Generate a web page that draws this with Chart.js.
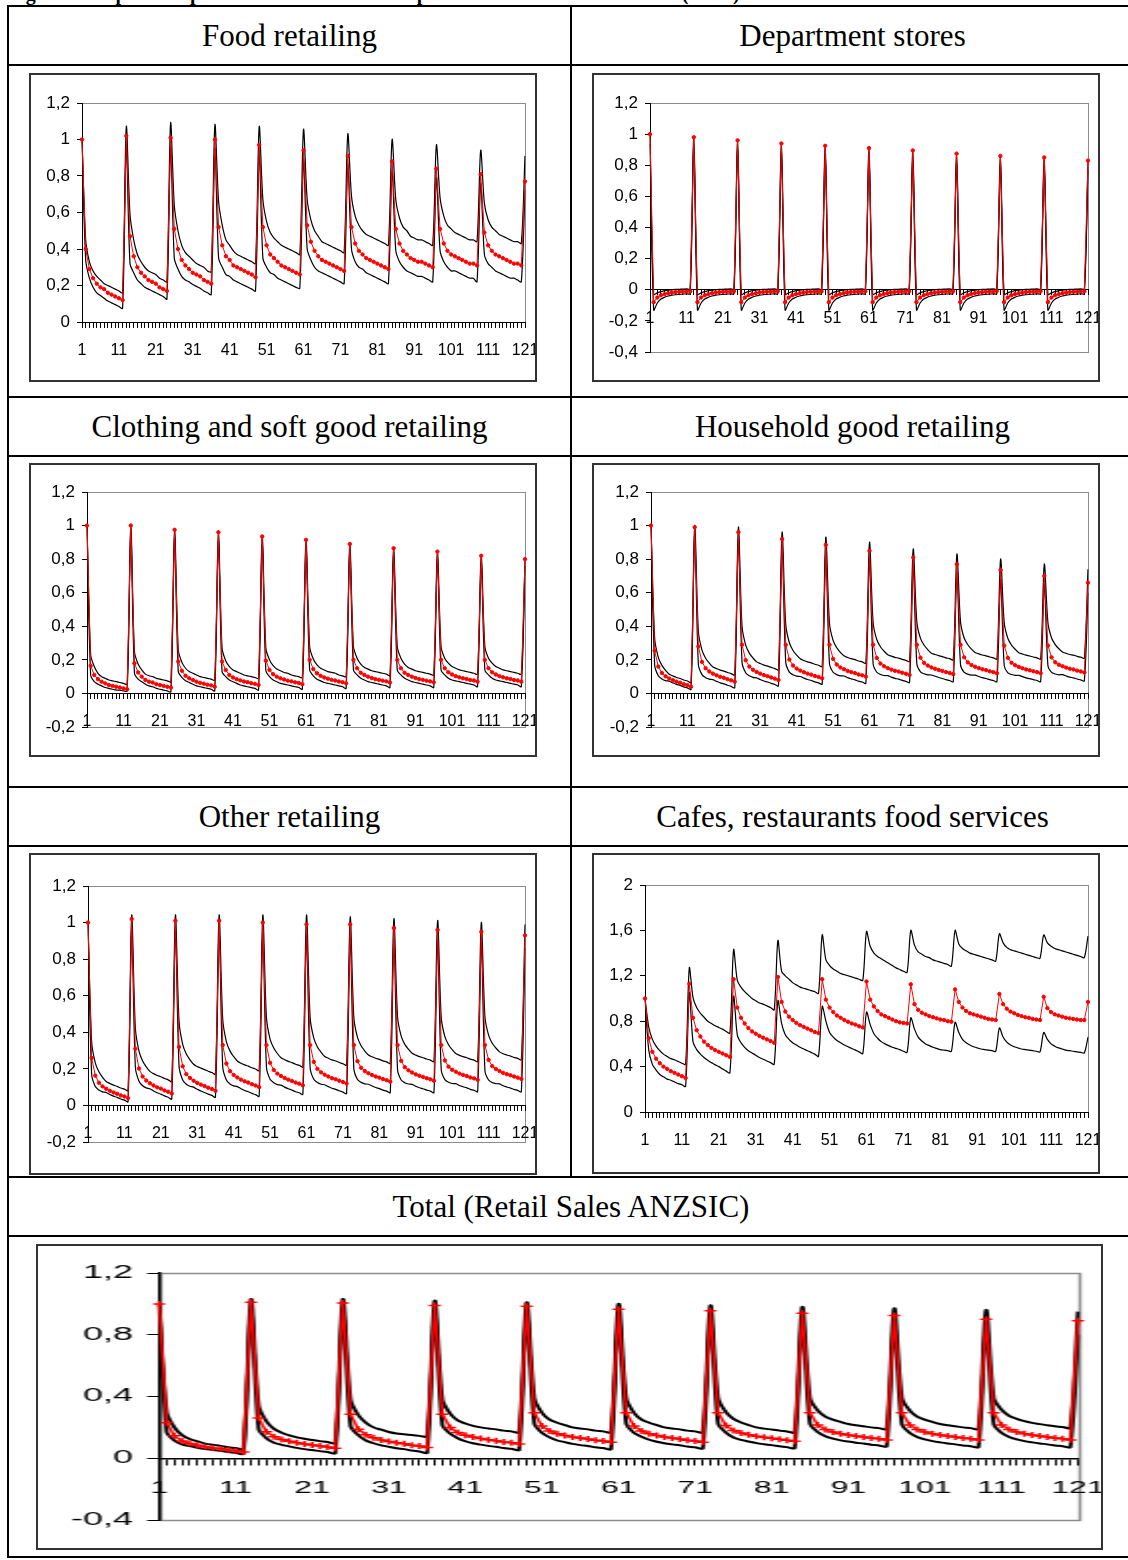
<!DOCTYPE html>
<html><head><meta charset="utf-8">
<script src="https://cdn.jsdelivr.net/npm/chart.js@4.4.1/dist/chart.umd.min.js"></script>
<style>
html,body{margin:0;padding:0;background:#fff;}
body{width:1128px;height:1560px;position:relative;overflow:hidden;}
.hl{position:absolute;height:2px;background:#000;}
.vl{position:absolute;width:2px;background:#000;}
.title{position:absolute;font-family:'Liberation Serif','Times New Roman',serif;font-size:31px;color:#000;text-align:center;white-space:nowrap;line-height:40px;height:40px;}
.cap{position:absolute;left:8px;top:-17px;font-family:'Liberation Serif','Times New Roman',serif;font-weight:bold;font-size:20px;line-height:20px;white-space:nowrap;}
.box{position:absolute;border:2px solid #333;box-sizing:border-box;background:#fff;overflow:hidden;}
.box canvas{position:absolute;left:0;top:0;}
</style></head>
<body>
<div class="cap">Figure 5: Impulse responses of the seasonal component in the retail sales series (SDM)</div>

<div class="hl" style="left:7px;top:5px;width:1130px"></div>
<div class="hl" style="left:7px;top:64px;width:1130px"></div>
<div class="hl" style="left:7px;top:396px;width:1130px"></div>
<div class="hl" style="left:7px;top:455px;width:1130px"></div>
<div class="hl" style="left:7px;top:786px;width:1130px"></div>
<div class="hl" style="left:7px;top:845px;width:1130px"></div>
<div class="hl" style="left:7px;top:1176px;width:1130px"></div>
<div class="hl" style="left:7px;top:1235px;width:1130px"></div>
<div class="hl" style="left:7px;top:1556px;width:1130px"></div>
<div class="vl" style="left:7px;top:5px;height:1553px"></div>
<div class="vl" style="left:570px;top:5px;height:1173px"></div>
<div class="vl" style="left:1133px;top:5px;height:1553px"></div>

<div class="title" style="left:8px;width:563px;top:16px">Food retailing</div>
<div class="title" style="left:571px;width:563px;top:16px">Department stores</div>
<div class="title" style="left:8px;width:563px;top:407px">Clothing and soft good retailing</div>
<div class="title" style="left:571px;width:563px;top:407px">Household good retailing</div>
<div class="title" style="left:8px;width:563px;top:797px">Other retailing</div>
<div class="title" style="left:571px;width:563px;top:797px">Cafes, restaurants food services</div>
<div class="title" style="left:8px;width:1126px;top:1187px">Total (Retail Sales ANZSIC)</div>

<div class="box" style="left:29px;top:73px;width:508px;height:309px"><canvas id="cFood"></canvas></div>
<div class="box" style="left:592px;top:73px;width:508px;height:309px"><canvas id="cDept"></canvas></div>
<div class="box" style="left:29px;top:463px;width:508px;height:294px"><canvas id="cCloth"></canvas></div>
<div class="box" style="left:592px;top:463px;width:508px;height:294px"><canvas id="cHouse"></canvas></div>
<div class="box" style="left:29px;top:853px;width:508px;height:322px"><canvas id="cOther"></canvas></div>
<div class="box" style="left:592px;top:853px;width:508px;height:321px"><canvas id="cCafe"></canvas></div>
<div class="box" style="left:36px;top:1244px;width:1067px;height:306px"><canvas id="cTotal" style="transform-origin:0 0;transform:scaleX(1.998)"></canvas></div>

<script>
// ---------- categories & tick labels ----------
const periods = [1,2,3,4,5,6,7,8,9,10,11,12,13,14,15,16,17,18,19,20,21,22,23,24,25,26,27,28,29,30,
31,32,33,34,35,36,37,38,39,40,41,42,43,44,45,46,47,48,49,50,51,52,53,54,55,56,57,58,59,60,
61,62,63,64,65,66,67,68,69,70,71,72,73,74,75,76,77,78,79,80,81,82,83,84,85,86,87,88,89,90,
91,92,93,94,95,96,97,98,99,100,101,102,103,104,105,106,107,108,109,110,111,112,113,114,115,116,117,118,119,120,121];
const xTickLabels = ['1','11','21','31','41','51','61','71','81','91','101','111','121'];
const yTicksA = [0, 0.2, 0.4, 0.6, 0.8, 1, 1.2];
const yTicksB = [-0.4, -0.2, 0, 0.2, 0.4, 0.6, 0.8, 1, 1.2];
const yTicksC = [-0.2, 0, 0.2, 0.4, 0.6, 0.8, 1, 1.2];
const yTicksCafe = [0, 0.4, 0.8, 1.2, 1.6, 2];
const yTicksTotal = [-0.4, 0, 0.4, 0.8, 1.2];

// ---------- Food retailing ----------
const foodMid = [
1.00,0.40,0.29,0.24,0.21,0.19,0.18,0.16,0.15,0.14,0.13,0.12,
1.02,0.47,0.36,0.30,0.27,0.25,0.23,0.22,0.21,0.19,0.18,0.17,
1.01,0.51,0.40,0.34,0.31,0.29,0.27,0.26,0.25,0.23,0.22,0.21,
1.00,0.52,0.42,0.36,0.34,0.31,0.30,0.29,0.28,0.27,0.26,0.245,
0.97,0.52,0.42,0.37,0.35,0.33,0.31,0.30,0.29,0.28,0.27,0.26,
0.94,0.53,0.44,0.39,0.36,0.34,0.33,0.32,0.31,0.30,0.29,0.28,
0.91,0.52,0.43,0.39,0.37,0.35,0.34,0.33,0.32,0.31,0.30,0.29,
0.88,0.51,0.43,0.39,0.37,0.35,0.34,0.33,0.33,0.32,0.31,0.30,
0.84,0.51,0.43,0.39,0.37,0.36,0.35,0.34,0.33,0.32,0.32,0.31,
0.81,0.49,0.42,0.39,0.37,0.36,0.35,0.34,0.33,0.32,0.32,0.31,
0.77];
const foodUp = [
1.00,0.45,0.33,0.28,0.25,0.23,0.21,0.20,0.19,0.18,0.17,0.16,
1.07,0.59,0.45,0.37,0.33,0.30,0.28,0.27,0.26,0.24,0.23,0.22,
1.09,0.64,0.50,0.42,0.38,0.36,0.34,0.32,0.31,0.30,0.28,0.275,
1.08,0.66,0.53,0.45,0.42,0.39,0.37,0.36,0.35,0.34,0.33,0.32,
1.07,0.67,0.55,0.49,0.46,0.44,0.42,0.41,0.40,0.39,0.38,0.37,
1.055,0.67,0.56,0.50,0.47,0.44,0.43,0.42,0.41,0.40,0.39,0.38,
1.03,0.69,0.58,0.53,0.50,0.48,0.47,0.46,0.45,0.44,0.43,0.42,
1.00,0.67,0.57,0.52,0.50,0.47,0.46,0.45,0.45,0.44,0.43,0.42,
0.97,0.68,0.58,0.53,0.51,0.49,0.48,0.47,0.46,0.45,0.45,0.44,
0.94,0.65,0.56,0.52,0.50,0.48,0.47,0.46,0.45,0.44,0.44,0.43,
0.91];
const foodLo = [
1.00,0.34,0.24,0.19,0.16,0.145,0.13,0.115,0.105,0.095,0.085,0.075,
0.97,0.32,0.27,0.23,0.21,0.19,0.18,0.17,0.16,0.15,0.14,0.125,
0.96,0.35,0.29,0.25,0.23,0.22,0.205,0.195,0.185,0.17,0.16,0.15,
0.95,0.35,0.30,0.26,0.25,0.23,0.22,0.21,0.20,0.19,0.18,0.17,
0.92,0.35,0.30,0.27,0.26,0.24,0.23,0.22,0.21,0.20,0.19,0.185,
0.89,0.40,0.34,0.30,0.28,0.27,0.26,0.25,0.24,0.23,0.22,0.21,
0.86,0.40,0.33,0.30,0.29,0.27,0.26,0.25,0.24,0.23,0.22,0.21,
0.83,0.39,0.33,0.30,0.28,0.27,0.26,0.25,0.25,0.24,0.23,0.22,
0.79,0.39,0.33,0.30,0.28,0.28,0.27,0.26,0.25,0.24,0.24,0.22,
0.76,0.37,0.32,0.30,0.28,0.27,0.26,0.25,0.24,0.24,0.23,0.22,
0.72];

// ---------- Department stores ----------
const deptMid = [
1.00,-0.08,-0.05,-0.035,-0.028,-0.022,-0.018,-0.015,-0.013,-0.012,-0.011,-0.01,
0.98,-0.08,-0.05,-0.035,-0.028,-0.022,-0.018,-0.015,-0.013,-0.012,-0.011,-0.01,
0.96,-0.08,-0.05,-0.035,-0.028,-0.022,-0.018,-0.015,-0.013,-0.012,-0.011,-0.01,
0.94,-0.08,-0.05,-0.035,-0.028,-0.022,-0.018,-0.015,-0.013,-0.012,-0.011,-0.01,
0.925,-0.08,-0.05,-0.035,-0.028,-0.022,-0.018,-0.015,-0.013,-0.012,-0.011,-0.01,
0.91,-0.08,-0.05,-0.035,-0.028,-0.022,-0.018,-0.015,-0.013,-0.012,-0.011,-0.01,
0.895,-0.08,-0.05,-0.035,-0.028,-0.022,-0.018,-0.015,-0.013,-0.012,-0.011,-0.01,
0.875,-0.08,-0.05,-0.035,-0.028,-0.022,-0.018,-0.015,-0.013,-0.012,-0.011,-0.01,
0.86,-0.08,-0.05,-0.035,-0.028,-0.022,-0.018,-0.015,-0.013,-0.012,-0.011,-0.01,
0.85,-0.08,-0.05,-0.035,-0.028,-0.022,-0.018,-0.015,-0.013,-0.012,-0.011,-0.01,
0.83];
const deptUp = [
0.99,-0.03,-0.02,-0.012,-0.006,-0.002,0,0.002,0.003,0.004,0.005,0.005,
0.97,-0.03,-0.02,-0.012,-0.006,-0.002,0,0.002,0.003,0.004,0.005,0.005,
0.95,-0.03,-0.02,-0.012,-0.006,-0.002,0,0.002,0.003,0.004,0.005,0.005,
0.93,-0.03,-0.02,-0.012,-0.006,-0.002,0,0.002,0.003,0.004,0.005,0.005,
0.915,-0.03,-0.02,-0.012,-0.006,-0.002,0,0.002,0.003,0.004,0.005,0.005,
0.90,-0.03,-0.02,-0.012,-0.006,-0.002,0,0.002,0.003,0.004,0.005,0.005,
0.885,-0.03,-0.02,-0.012,-0.006,-0.002,0,0.002,0.003,0.004,0.005,0.005,
0.865,-0.03,-0.02,-0.012,-0.006,-0.002,0,0.002,0.003,0.004,0.005,0.005,
0.85,-0.03,-0.02,-0.012,-0.006,-0.002,0,0.002,0.003,0.004,0.005,0.005,
0.84,-0.03,-0.02,-0.012,-0.006,-0.002,0,0.002,0.003,0.004,0.005,0.005,
0.82];
const deptLo = [
0.94,-0.13,-0.085,-0.06,-0.048,-0.04,-0.035,-0.032,-0.03,-0.028,-0.026,-0.025,
0.92,-0.13,-0.085,-0.06,-0.048,-0.04,-0.035,-0.032,-0.03,-0.028,-0.026,-0.025,
0.90,-0.13,-0.085,-0.06,-0.048,-0.04,-0.035,-0.032,-0.03,-0.028,-0.026,-0.025,
0.88,-0.13,-0.085,-0.06,-0.048,-0.04,-0.035,-0.032,-0.03,-0.028,-0.026,-0.025,
0.865,-0.13,-0.085,-0.06,-0.048,-0.04,-0.035,-0.032,-0.03,-0.028,-0.026,-0.025,
0.85,-0.13,-0.085,-0.06,-0.048,-0.04,-0.035,-0.032,-0.03,-0.028,-0.026,-0.025,
0.835,-0.13,-0.085,-0.06,-0.048,-0.04,-0.035,-0.032,-0.03,-0.028,-0.026,-0.025,
0.815,-0.13,-0.085,-0.06,-0.048,-0.04,-0.035,-0.032,-0.03,-0.028,-0.026,-0.025,
0.80,-0.13,-0.085,-0.06,-0.048,-0.04,-0.035,-0.032,-0.03,-0.028,-0.026,-0.025,
0.79,-0.13,-0.085,-0.06,-0.048,-0.04,-0.035,-0.032,-0.03,-0.028,-0.026,-0.025,
0.77];

// ---------- Clothing and soft good retailing ----------
const clothMid = [
1.00,0.165,0.11,0.085,0.07,0.06,0.05,0.045,0.04,0.035,0.03,0.025,
1.00,0.18,0.125,0.10,0.08,0.07,0.065,0.055,0.05,0.045,0.04,0.035,
0.975,0.19,0.135,0.105,0.09,0.08,0.07,0.063,0.058,0.052,0.048,0.04,
0.96,0.19,0.14,0.11,0.095,0.085,0.078,0.071,0.067,0.061,0.057,0.05,
0.935,0.195,0.14,0.115,0.10,0.09,0.083,0.076,0.072,0.066,0.062,0.055,
0.915,0.20,0.145,0.12,0.105,0.095,0.088,0.081,0.077,0.071,0.067,0.06,
0.89,0.20,0.15,0.123,0.11,0.10,0.092,0.085,0.081,0.076,0.072,0.065,
0.865,0.20,0.15,0.123,0.11,0.10,0.092,0.085,0.081,0.076,0.072,0.066,
0.845,0.20,0.15,0.126,0.113,0.103,0.096,0.09,0.086,0.08,0.077,0.07,
0.82,0.20,0.15,0.126,0.113,0.103,0.096,0.09,0.086,0.08,0.077,0.07,
0.80];
const clothUp = [
1.00,0.23,0.16,0.12,0.10,0.09,0.08,0.075,0.07,0.065,0.06,0.055,
0.99,0.25,0.175,0.14,0.115,0.105,0.10,0.09,0.085,0.08,0.075,0.07,
0.97,0.26,0.185,0.15,0.13,0.12,0.11,0.10,0.095,0.09,0.085,0.08,
0.95,0.27,0.195,0.16,0.14,0.13,0.12,0.11,0.105,0.10,0.095,0.09,
0.93,0.27,0.20,0.165,0.145,0.135,0.125,0.12,0.11,0.105,0.10,0.095,
0.91,0.28,0.205,0.17,0.15,0.14,0.13,0.125,0.12,0.11,0.105,0.10,
0.885,0.28,0.21,0.175,0.155,0.145,0.135,0.13,0.125,0.12,0.115,0.105,
0.86,0.28,0.21,0.175,0.155,0.145,0.135,0.13,0.125,0.12,0.115,0.11,
0.84,0.28,0.21,0.18,0.16,0.15,0.14,0.135,0.13,0.125,0.12,0.115,
0.815,0.28,0.21,0.18,0.16,0.15,0.14,0.135,0.13,0.125,0.12,0.115,
0.79];
const clothLo = [
1.00,0.11,0.07,0.055,0.045,0.035,0.03,0.025,0.02,0.02,0.015,0.015,
0.96,0.12,0.085,0.07,0.055,0.045,0.04,0.03,0.025,0.02,0.015,0.01,
0.93,0.13,0.095,0.075,0.065,0.055,0.045,0.04,0.035,0.03,0.025,0.015,
0.91,0.13,0.10,0.08,0.07,0.06,0.05,0.045,0.04,0.035,0.03,0.02,
0.89,0.135,0.10,0.08,0.07,0.06,0.055,0.05,0.045,0.04,0.035,0.025,
0.87,0.14,0.105,0.085,0.075,0.065,0.06,0.055,0.05,0.045,0.04,0.03,
0.85,0.14,0.11,0.09,0.08,0.07,0.065,0.06,0.055,0.05,0.045,0.035,
0.82,0.14,0.11,0.09,0.08,0.07,0.065,0.06,0.055,0.05,0.045,0.035,
0.80,0.14,0.11,0.09,0.08,0.075,0.07,0.065,0.06,0.055,0.05,0.04,
0.78,0.14,0.11,0.09,0.08,0.075,0.07,0.065,0.06,0.055,0.05,0.04,
0.76];

// ---------- Household good retailing ----------
const houseMid = [
1.00,0.255,0.16,0.122,0.102,0.089,0.079,0.07,0.064,0.055,0.049,0.04,
0.99,0.28,0.188,0.15,0.131,0.118,0.108,0.099,0.093,0.085,0.078,0.07,
0.96,0.29,0.198,0.16,0.141,0.128,0.118,0.109,0.103,0.095,0.088,0.08,
0.92,0.29,0.202,0.166,0.148,0.136,0.126,0.118,0.112,0.104,0.098,0.09,
0.885,0.29,0.206,0.172,0.155,0.144,0.134,0.127,0.121,0.113,0.108,0.10,
0.85,0.29,0.211,0.178,0.162,0.151,0.142,0.135,0.13,0.123,0.117,0.11,
0.81,0.29,0.213,0.182,0.166,0.155,0.147,0.14,0.134,0.127,0.122,0.115,
0.77,0.29,0.215,0.185,0.169,0.159,0.151,0.144,0.139,0.132,0.127,0.12,
0.735,0.285,0.212,0.183,0.168,0.158,0.15,0.143,0.138,0.132,0.127,0.12,
0.70,0.285,0.215,0.186,0.171,0.162,0.154,0.147,0.143,0.136,0.131,0.125,
0.66];
const houseUp = [
1.00,0.33,0.215,0.167,0.137,0.114,0.104,0.095,0.089,0.08,0.074,0.065,
1.00,0.37,0.258,0.21,0.181,0.158,0.148,0.139,0.133,0.125,0.118,0.11,
0.99,0.40,0.288,0.24,0.211,0.188,0.178,0.169,0.163,0.155,0.148,0.14,
0.96,0.41,0.302,0.256,0.228,0.206,0.196,0.188,0.182,0.174,0.168,0.16,
0.93,0.42,0.316,0.272,0.245,0.224,0.214,0.207,0.201,0.193,0.188,0.18,
0.90,0.42,0.321,0.278,0.252,0.231,0.222,0.215,0.21,0.203,0.197,0.19,
0.86,0.425,0.328,0.287,0.261,0.24,0.232,0.225,0.219,0.212,0.207,0.20,
0.83,0.425,0.33,0.29,0.264,0.244,0.236,0.229,0.224,0.217,0.212,0.205,
0.80,0.42,0.327,0.288,0.263,0.243,0.235,0.228,0.223,0.217,0.212,0.205,
0.77,0.42,0.33,0.291,0.266,0.247,0.239,0.232,0.228,0.221,0.216,0.21,
0.74];
const houseLo = [
1.00,0.17,0.105,0.086,0.076,0.073,0.063,0.054,0.048,0.039,0.033,0.024,
0.95,0.174,0.112,0.094,0.085,0.082,0.072,0.063,0.057,0.049,0.042,0.034,
0.92,0.185,0.123,0.105,0.096,0.093,0.083,0.074,0.068,0.06,0.053,0.045,
0.88,0.185,0.127,0.111,0.103,0.101,0.091,0.083,0.077,0.069,0.063,0.055,
0.84,0.18,0.126,0.112,0.105,0.104,0.094,0.087,0.081,0.073,0.068,0.06,
0.80,0.175,0.126,0.113,0.107,0.106,0.097,0.09,0.085,0.078,0.072,0.065,
0.76,0.175,0.128,0.117,0.111,0.11,0.102,0.095,0.089,0.082,0.077,0.07,
0.72,0.17,0.125,0.115,0.109,0.109,0.101,0.094,0.089,0.082,0.077,0.07,
0.68,0.165,0.122,0.113,0.108,0.108,0.10,0.093,0.088,0.082,0.077,0.07,
0.65,0.165,0.125,0.116,0.111,0.112,0.104,0.097,0.093,0.086,0.081,0.075,
0.60];

// ---------- Other retailing ----------
const otherMid = [
1.00,0.26,0.163,0.124,0.104,0.091,0.08,0.071,0.064,0.055,0.049,0.04,
1.02,0.31,0.202,0.158,0.136,0.121,0.109,0.099,0.092,0.082,0.075,0.065,
1.01,0.32,0.214,0.171,0.15,0.135,0.123,0.114,0.106,0.097,0.09,0.08,
1.01,0.33,0.229,0.187,0.167,0.153,0.141,0.132,0.125,0.116,0.109,0.10,
1.00,0.33,0.233,0.194,0.174,0.161,0.15,0.141,0.134,0.125,0.119,0.11,
0.99,0.33,0.238,0.20,0.181,0.168,0.158,0.149,0.143,0.135,0.128,0.12,
0.99,0.33,0.242,0.206,0.188,0.176,0.166,0.158,0.152,0.144,0.138,0.13,
0.97,0.33,0.244,0.209,0.192,0.18,0.17,0.162,0.156,0.149,0.143,0.135,
0.96,0.33,0.246,0.212,0.195,0.184,0.174,0.167,0.161,0.153,0.148,0.14,
0.95,0.33,0.249,0.215,0.199,0.188,0.178,0.171,0.165,0.158,0.152,0.145,
0.93];
const otherUp = [
1.00,0.35,0.233,0.184,0.154,0.131,0.12,0.111,0.104,0.095,0.089,0.08,
1.04,0.425,0.297,0.243,0.211,0.186,0.174,0.164,0.157,0.147,0.14,0.13,
1.04,0.46,0.334,0.281,0.25,0.225,0.213,0.204,0.196,0.187,0.18,0.17,
1.04,0.47,0.349,0.297,0.267,0.243,0.231,0.222,0.215,0.206,0.199,0.19,
1.04,0.48,0.363,0.314,0.284,0.261,0.25,0.241,0.234,0.225,0.219,0.21,
1.04,0.48,0.368,0.32,0.291,0.268,0.258,0.249,0.243,0.235,0.228,0.22,
1.03,0.48,0.372,0.326,0.298,0.276,0.266,0.258,0.252,0.244,0.238,0.23,
1.02,0.485,0.379,0.334,0.307,0.285,0.275,0.267,0.261,0.254,0.248,0.24,
1.01,0.48,0.376,0.332,0.305,0.284,0.274,0.267,0.261,0.253,0.248,0.24,
1.00,0.485,0.384,0.34,0.314,0.293,0.283,0.276,0.27,0.263,0.257,0.25,
0.99];
const otherLo = [
1.00,0.17,0.103,0.084,0.074,0.071,0.06,0.051,0.044,0.035,0.029,0.02,
0.97,0.21,0.132,0.108,0.096,0.091,0.079,0.069,0.062,0.052,0.045,0.035,
0.96,0.215,0.139,0.116,0.105,0.10,0.088,0.079,0.071,0.062,0.055,0.045,
0.95,0.21,0.139,0.117,0.107,0.103,0.091,0.082,0.075,0.066,0.059,0.05,
0.94,0.21,0.143,0.124,0.114,0.111,0.10,0.091,0.084,0.075,0.069,0.06,
0.93,0.205,0.143,0.125,0.116,0.113,0.103,0.094,0.088,0.08,0.073,0.065,
0.92,0.20,0.142,0.126,0.118,0.116,0.106,0.098,0.092,0.084,0.078,0.07,
0.91,0.195,0.139,0.124,0.117,0.115,0.105,0.097,0.091,0.084,0.078,0.07,
0.90,0.195,0.141,0.127,0.12,0.119,0.109,0.102,0.096,0.088,0.083,0.075,
0.89,0.19,0.139,0.125,0.119,0.118,0.108,0.101,0.095,0.088,0.082,0.075,
0.86];

// ---------- Cafes, restaurants food services ----------
const cafeMid = [
1.00,0.65,0.53,0.47,0.43,0.40,0.38,0.36,0.345,0.33,0.315,0.30,
1.13,0.83,0.72,0.665,0.62,0.59,0.565,0.545,0.53,0.515,0.50,0.485,
1.17,0.92,0.83,0.78,0.74,0.71,0.69,0.67,0.655,0.64,0.625,0.61,
1.19,0.97,0.885,0.84,0.81,0.785,0.765,0.75,0.735,0.72,0.705,0.695,
1.17,0.99,0.92,0.88,0.85,0.83,0.81,0.795,0.78,0.77,0.755,0.745,
1.15,0.99,0.93,0.89,0.86,0.845,0.83,0.815,0.80,0.79,0.785,0.78,
1.125,0.95,0.90,0.875,0.86,0.845,0.835,0.825,0.815,0.81,0.80,0.795,
1.08,0.97,0.92,0.89,0.87,0.86,0.85,0.84,0.83,0.82,0.815,0.81,
1.04,0.95,0.91,0.885,0.87,0.855,0.845,0.835,0.83,0.82,0.815,0.81,
1.015,0.915,0.88,0.86,0.85,0.84,0.83,0.825,0.82,0.815,0.81,0.81,
0.97];
const cafeUp = [
1.00,0.75,0.64,0.58,0.54,0.51,0.49,0.47,0.46,0.445,0.43,0.42,
1.27,1.01,0.92,0.87,0.835,0.80,0.78,0.76,0.745,0.73,0.71,0.695,
1.43,1.16,1.10,1.06,1.03,1.00,0.98,0.96,0.95,0.935,0.92,0.90,
1.51,1.24,1.20,1.17,1.14,1.12,1.10,1.09,1.08,1.07,1.06,1.045,
1.56,1.34,1.29,1.26,1.24,1.22,1.21,1.20,1.19,1.18,1.17,1.16,
1.59,1.46,1.40,1.37,1.35,1.33,1.31,1.29,1.27,1.255,1.24,1.23,
1.60,1.47,1.41,1.39,1.37,1.36,1.34,1.33,1.32,1.31,1.30,1.285,
1.60,1.48,1.44,1.42,1.40,1.39,1.38,1.37,1.36,1.35,1.34,1.33,
1.57,1.49,1.45,1.43,1.42,1.41,1.40,1.39,1.38,1.37,1.36,1.355,
1.56,1.49,1.46,1.44,1.43,1.42,1.41,1.40,1.39,1.38,1.37,1.36,
1.55];
const cafeLo = [
1.00,0.55,0.42,0.37,0.33,0.31,0.29,0.28,0.265,0.25,0.24,0.225,
1.05,0.62,0.55,0.51,0.48,0.455,0.435,0.415,0.40,0.38,0.36,0.345,
1.02,0.68,0.61,0.57,0.54,0.52,0.50,0.48,0.465,0.45,0.435,0.42,
0.98,0.78,0.68,0.64,0.61,0.59,0.57,0.555,0.54,0.525,0.51,0.49,
0.93,0.80,0.70,0.66,0.63,0.61,0.59,0.575,0.56,0.545,0.53,0.515,
0.88,0.77,0.69,0.65,0.62,0.60,0.585,0.57,0.56,0.55,0.535,0.525,
0.83,0.73,0.66,0.625,0.60,0.585,0.57,0.56,0.55,0.545,0.54,0.535,
0.79,0.70,0.64,0.61,0.59,0.575,0.565,0.555,0.55,0.545,0.54,0.535,
0.74,0.66,0.615,0.59,0.575,0.565,0.555,0.55,0.545,0.54,0.535,0.53,
0.70,0.64,0.60,0.58,0.565,0.555,0.545,0.54,0.535,0.53,0.525,0.52,
0.66];

// ---------- Total (Retail Sales ANZSIC) ----------
const totalMid = [
1.00,0.23,0.145,0.112,0.095,0.084,0.074,0.067,0.061,0.053,0.048,0.04,
1.01,0.26,0.172,0.139,0.122,0.11,0.10,0.092,0.086,0.079,0.073,0.065,
1.005,0.285,0.188,0.152,0.132,0.119,0.109,0.10,0.094,0.085,0.079,0.07,
0.99,0.285,0.199,0.166,0.149,0.137,0.128,0.12,0.114,0.106,0.101,0.093,
0.985,0.295,0.209,0.177,0.159,0.148,0.138,0.131,0.125,0.117,0.112,0.104,
0.965,0.295,0.209,0.177,0.159,0.148,0.138,0.131,0.125,0.117,0.112,0.104,
0.955,0.295,0.212,0.18,0.164,0.153,0.143,0.136,0.13,0.123,0.117,0.11,
0.94,0.295,0.216,0.186,0.17,0.159,0.151,0.144,0.138,0.131,0.126,0.119,
0.925,0.295,0.216,0.186,0.17,0.159,0.151,0.144,0.138,0.131,0.126,0.119,
0.90,0.295,0.216,0.186,0.17,0.159,0.151,0.144,0.138,0.131,0.126,0.119,
0.89];
const totalUp = [
1.00,0.30,0.20,0.15,0.125,0.11,0.095,0.087,0.08,0.071,0.066,0.058,
1.03,0.34,0.24,0.19,0.165,0.148,0.135,0.126,0.118,0.111,0.105,0.097,
1.03,0.38,0.28,0.23,0.20,0.185,0.17,0.16,0.155,0.15,0.145,0.14,
1.02,0.38,0.29,0.245,0.225,0.21,0.20,0.193,0.187,0.179,0.174,0.166,
1.01,0.39,0.295,0.25,0.23,0.215,0.20,0.193,0.187,0.179,0.174,0.166,
1.00,0.39,0.295,0.25,0.23,0.215,0.20,0.193,0.187,0.179,0.174,0.166,
0.99,0.39,0.30,0.255,0.232,0.215,0.20,0.192,0.186,0.179,0.173,0.166,
0.98,0.39,0.31,0.27,0.25,0.235,0.222,0.214,0.207,0.20,0.195,0.188,
0.97,0.39,0.31,0.27,0.25,0.235,0.222,0.214,0.207,0.20,0.195,0.188,
0.96,0.39,0.315,0.275,0.255,0.24,0.229,0.221,0.214,0.207,0.202,0.195,
0.95];
const totalLo = [
1.00,0.17,0.115,0.09,0.078,0.068,0.06,0.054,0.048,0.04,0.035,0.028,
0.95,0.19,0.13,0.10,0.087,0.077,0.067,0.059,0.053,0.046,0.04,0.032,
0.95,0.21,0.15,0.115,0.097,0.084,0.074,0.065,0.059,0.05,0.044,0.035,
0.94,0.215,0.16,0.13,0.11,0.097,0.088,0.08,0.074,0.066,0.061,0.053,
0.93,0.225,0.165,0.135,0.115,0.104,0.093,0.085,0.079,0.071,0.066,0.058,
0.91,0.225,0.165,0.14,0.12,0.107,0.097,0.09,0.084,0.076,0.071,0.063,
0.90,0.225,0.167,0.135,0.119,0.108,0.098,0.091,0.085,0.078,0.072,0.065,
0.89,0.225,0.17,0.143,0.127,0.116,0.108,0.101,0.095,0.088,0.083,0.076,
0.87,0.22,0.165,0.138,0.122,0.111,0.103,0.096,0.09,0.083,0.078,0.071,
0.85,0.22,0.165,0.138,0.122,0.111,0.103,0.096,0.09,0.083,0.078,0.071,
0.80];

// ---------- rendering ----------
Chart.defaults.font.family = "'Liberation Sans', Arial, sans-serif";
const fmt = v => String(Math.round(v * 10) / 10).replace('.', ',');

const framePlugin = {
  id: 'frame',
  beforeDraw(chart, args, opts) {
    const {ctx, chartArea: a} = chart;
    ctx.save();
    ctx.strokeStyle = '#8c8c8c';
    ctx.lineWidth = opts.lw || 1;
    const l = Math.round(a.left) + 0.5, t = Math.round(a.top) + 0.5;
    ctx.strokeRect(l, t, Math.round(a.right) - Math.round(a.left), Math.round(a.bottom) - Math.round(a.top));
    ctx.restore();
  }
};

function build(id, w, h, s) {
  const cv = document.getElementById(id);
  cv.width = w; cv.height = h;
  cv.style.width = w + 'px'; cv.style.height = h + 'px';
  const xfont = {family: "'Liberation Sans', Arial, sans-serif", size: s.xfs};
  const yfont = {family: "'Liberation Sans', Arial, sans-serif", size: s.yfs};
  return new Chart(cv, {
    type: 'line',
    data: {
      labels: periods,
      datasets: [
        {data: s.mid, borderColor: '#ff0000', backgroundColor: '#ff0000', borderWidth: s.rw,
         pointRadius: s.pr, pointStyle: s.ps, pointBorderWidth: s.pbw, pointBackgroundColor: '#ff0000',
         pointBorderColor: '#ff0000', tension: 0, order: 0},
        {data: s.up, borderColor: '#000', borderWidth: s.bw, pointRadius: 0, tension: 0.3, order: 1},
        {data: s.lo, borderColor: '#000', borderWidth: s.bw, pointRadius: 0, tension: 0.3, order: 1}
      ]
    },
    options: {
      responsive: false, animation: false, events: [],
      layout: {padding: {left: 0, top: s.pt, right: s.pr2, bottom: s.pb}},
      plugins: {legend: {display: false}, tooltip: {enabled: false}, frame: {lw: s.flw || 1}},
      scales: {
        x: {
          type: 'category', position: {y: 0}, offset: false,
          grid: {display: true, drawOnChartArea: false, drawTicks: true, tickLength: s.tl, color: '#000', lineWidth: 1},
          border: {display: true, color: '#000', width: s.aw},
          ticks: {autoSkip: false, maxRotation: 0, minRotation: 0, padding: s.xpad, color: '#000', font: xfont,
            callback: (v, i) => xTickLabels.includes(String(periods[i])) ? String(periods[i]) : ''},
          afterFit: sc => { sc.paddingLeft = 0; sc.paddingRight = 0; }
        },
        y: {
          type: 'linear', min: s.yticks[0], max: s.yticks[s.yticks.length - 1],
          grid: {display: true, drawOnChartArea: false, drawTicks: true, tickLength: s.tl, color: '#000', lineWidth: 1},
          border: {display: true, color: '#000', width: s.aw},
          ticks: {color: '#000', padding: 7, font: yfont, callback: v => fmt(v)},
          afterBuildTicks: sc => { sc.ticks = s.yticks.map(v => ({value: v})); },
          afterFit: sc => { sc.width = s.yw; sc.paddingTop = 0; sc.paddingBottom = 0; }
        }
      }
    },
    plugins: [framePlugin]
  });
}

const small = {rw: 1, pr: 1.7, ps: 'circle', pbw: 1, bw: 1.2, tl: 5, aw: 1, xpad: 14, xfs: 16, yfs: 17};
build('cFood', 504, 305, Object.assign({}, small, {mid: foodMid, up: foodUp, lo: foodLo, yticks: yTicksA, yw: 51, pt: 28, pr2: 10, pb: 58}));
build('cDept', 504, 305, Object.assign({}, small, {mid: deptMid, up: deptUp, lo: deptLo, yticks: yTicksB, yw: 56, pt: 28, pr2: 10, pb: 28}));
build('cCloth', 504, 290, Object.assign({}, small, {mid: clothMid, up: clothUp, lo: clothLo, yticks: yTicksC, yw: 56, pt: 27, pr2: 10, pb: 28}));
build('cHouse', 504, 290, Object.assign({}, small, {mid: houseMid, up: houseUp, lo: houseLo, yticks: yTicksC, yw: 57, pt: 27, pr2: 10, pb: 28}));
build('cOther', 504, 318, Object.assign({}, small, {mid: otherMid, up: otherUp, lo: otherLo, yticks: yTicksC, yw: 57, pt: 31, pr2: 10, pb: 31}));
build('cCafe', 504, 317, Object.assign({}, small, {mid: cafeMid, up: cafeUp, lo: cafeLo, yticks: yTicksCafe, yw: 51, pt: 30, pr2: 10, pb: 60}));
build('cTotal', 532, 302, {mid: totalMid, up: totalUp, lo: totalLo, yticks: yTicksTotal, yw: 60.6, pt: 27, pr2: 11.5, pb: 28,
  rw: 1.5, pr: 3, ps: 'cross', pbw: 1.5, bw: 2, tl: 6, aw: 1.5, xpad: 15, flw: 1.5, xfs: 16, yfs: 18});
</script>
</body></html>
